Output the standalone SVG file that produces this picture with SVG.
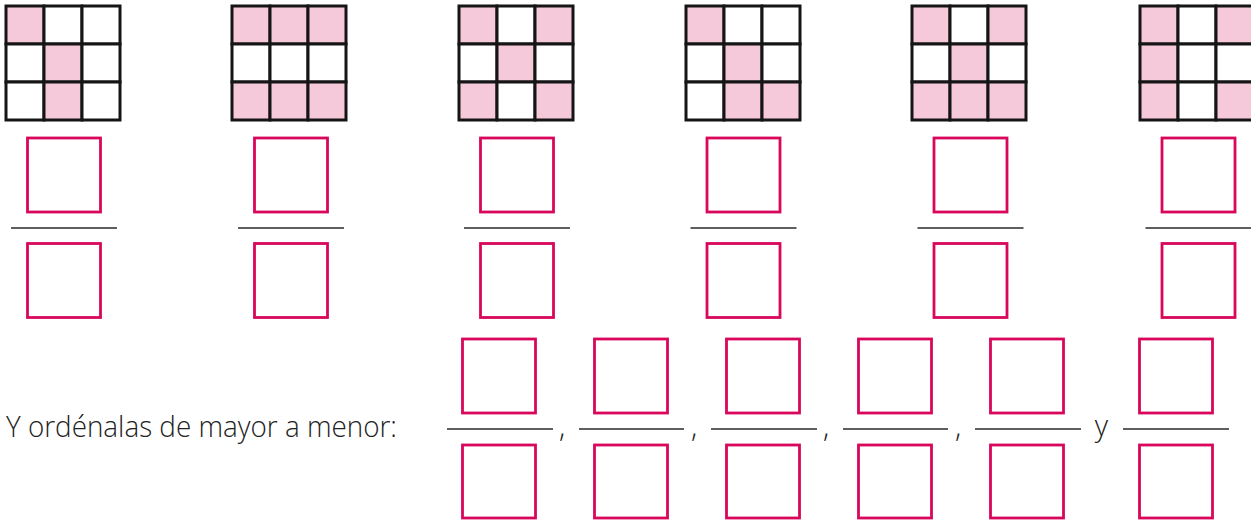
<svg xmlns="http://www.w3.org/2000/svg" width="1251" height="523" viewBox="0 0 1251 523">
<style>
.c{stroke:#151515;stroke-width:3;fill:#fff}
.p{fill:#F6C9DA}
.b{fill:none;stroke:#D9075B;stroke-width:2.8}
.l{stroke:#2a2a2a;stroke-width:1.6}
.t{font-family:"Open Sans","Liberation Sans",sans-serif;font-weight:300;font-size:29px;fill:#222}
</style>
<defs>
<g id="top"><rect class="b" x="-36.5" y="138" width="73" height="74"/><line class="l" x1="-53" y1="228" x2="53" y2="228"/><rect class="b" x="-36.5" y="243.5" width="73" height="74"/></g>
<g id="bot"><rect class="b" x="1.5" y="339" width="73" height="74"/><rect class="b" x="1.5" y="445" width="73" height="73"/></g>
</defs>
<g id="grid1" transform="translate(6,6)">
<rect class="c p" x="0" y="0" width="38" height="38"/><rect class="c" x="38" y="0" width="38" height="38"/><rect class="c" x="76" y="0" width="38" height="38"/>
<rect class="c" x="0" y="38" width="38" height="38"/><rect class="c p" x="38" y="38" width="38" height="38"/><rect class="c" x="76" y="38" width="38" height="38"/>
<rect class="c" x="0" y="76" width="38" height="38"/><rect class="c p" x="38" y="76" width="38" height="38"/><rect class="c" x="76" y="76" width="38" height="38"/>
</g>
<g id="grid2" transform="translate(232,6)">
<rect class="c p" x="0" y="0" width="38" height="38"/><rect class="c p" x="38" y="0" width="38" height="38"/><rect class="c p" x="76" y="0" width="38" height="38"/>
<rect class="c" x="0" y="38" width="38" height="38"/><rect class="c" x="38" y="38" width="38" height="38"/><rect class="c" x="76" y="38" width="38" height="38"/>
<rect class="c p" x="0" y="76" width="38" height="38"/><rect class="c p" x="38" y="76" width="38" height="38"/><rect class="c p" x="76" y="76" width="38" height="38"/>
</g>
<g id="grid3" transform="translate(459,6)">
<rect class="c p" x="0" y="0" width="38" height="38"/><rect class="c" x="38" y="0" width="38" height="38"/><rect class="c p" x="76" y="0" width="38" height="38"/>
<rect class="c" x="0" y="38" width="38" height="38"/><rect class="c p" x="38" y="38" width="38" height="38"/><rect class="c" x="76" y="38" width="38" height="38"/>
<rect class="c p" x="0" y="76" width="38" height="38"/><rect class="c" x="38" y="76" width="38" height="38"/><rect class="c p" x="76" y="76" width="38" height="38"/>
</g>
<g id="grid4" transform="translate(686,6)">
<rect class="c p" x="0" y="0" width="38" height="38"/><rect class="c" x="38" y="0" width="38" height="38"/><rect class="c" x="76" y="0" width="38" height="38"/>
<rect class="c" x="0" y="38" width="38" height="38"/><rect class="c p" x="38" y="38" width="38" height="38"/><rect class="c" x="76" y="38" width="38" height="38"/>
<rect class="c" x="0" y="76" width="38" height="38"/><rect class="c p" x="38" y="76" width="38" height="38"/><rect class="c p" x="76" y="76" width="38" height="38"/>
</g>
<g id="grid5" transform="translate(912,6)">
<rect class="c p" x="0" y="0" width="38" height="38"/><rect class="c" x="38" y="0" width="38" height="38"/><rect class="c p" x="76" y="0" width="38" height="38"/>
<rect class="c" x="0" y="38" width="38" height="38"/><rect class="c p" x="38" y="38" width="38" height="38"/><rect class="c" x="76" y="38" width="38" height="38"/>
<rect class="c p" x="0" y="76" width="38" height="38"/><rect class="c p" x="38" y="76" width="38" height="38"/><rect class="c p" x="76" y="76" width="38" height="38"/>
</g>
<g id="grid6" transform="translate(1140,6)">
<rect class="c p" x="0" y="0" width="38" height="38"/><rect class="c" x="38" y="0" width="38" height="38"/><rect class="c p" x="76" y="0" width="38" height="38"/>
<rect class="c p" x="0" y="38" width="38" height="38"/><rect class="c" x="38" y="38" width="38" height="38"/><rect class="c" x="76" y="38" width="38" height="38"/>
<rect class="c p" x="0" y="76" width="38" height="38"/><rect class="c" x="38" y="76" width="38" height="38"/><rect class="c p" x="76" y="76" width="38" height="38"/>
</g>
<g id="frac1"><use href="#top" transform="translate(64,0)"/></g>
<g id="frac2"><use href="#top" transform="translate(291,0)"/></g>
<g id="frac3"><use href="#top" transform="translate(517,0)"/></g>
<g id="frac4"><use href="#top" transform="translate(743.5,0)"/></g>
<g id="frac5"><use href="#top" transform="translate(970.5,0)"/></g>
<g id="frac6"><use href="#top" transform="translate(1198.5,0)"/></g>
<g id="prompt"><text class="t" x="6" y="437" textLength="391" lengthAdjust="spacingAndGlyphs">Y ordénalas de mayor a menor:</text></g>
<g id="order1"><use href="#bot" transform="translate(461,0)"/><line class="l" x1="447" y1="429" x2="553" y2="429"/><text class="t" x="559" y="437">,</text></g>
<g id="order2"><use href="#bot" transform="translate(593,0)"/><line class="l" x1="579" y1="429" x2="684" y2="429"/><text class="t" x="691" y="437">,</text></g>
<g id="order3"><use href="#bot" transform="translate(725,0)"/><line class="l" x1="711" y1="429" x2="817" y2="429"/><text class="t" x="823" y="437">,</text></g>
<g id="order4"><use href="#bot" transform="translate(857,0)"/><line class="l" x1="843" y1="429" x2="948" y2="429"/><text class="t" x="955" y="437">,</text></g>
<g id="order5"><use href="#bot" transform="translate(989,0)"/><line class="l" x1="975" y1="429" x2="1081" y2="429"/><text class="t" x="1101.5" y="436" text-anchor="middle">y</text></g>
<g id="order6"><use href="#bot" transform="translate(1138,0)"/><line class="l" x1="1123" y1="429" x2="1229" y2="429"/></g>
</svg>
